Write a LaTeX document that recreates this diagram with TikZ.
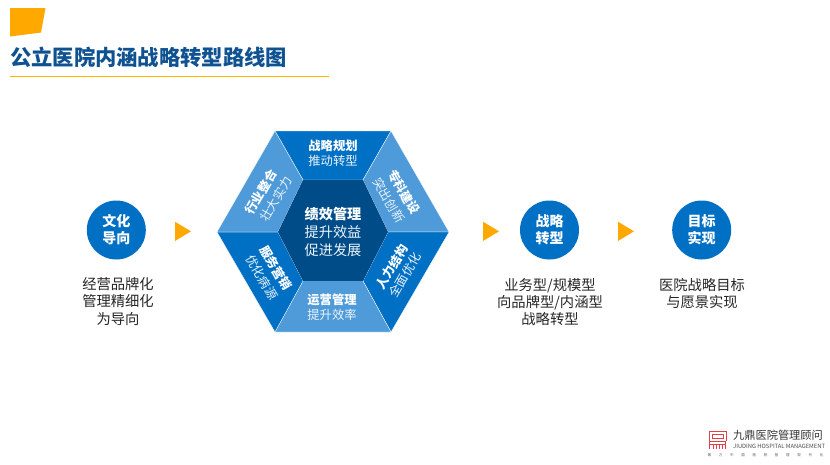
\documentclass[tikz,border=0pt]{standalone}
\usepackage{fontspec}
\setmainfont{Noto Sans CJK SC}
\usetikzlibrary{shapes.geometric}
\definecolor{hexdark}{HTML}{004C88}
\definecolor{hexblue}{HTML}{0070C5}
\definecolor{hexlight}{HTML}{4F9BD9}
\definecolor{accent}{HTML}{FFA800}
\definecolor{titleblue}{HTML}{0F5291}
\definecolor{bodytext}{HTML}{262626}
\definecolor{logored}{HTML}{E0404A}
\tikzset{
  x=1pt,y=-1pt,
  seg/.style={draw=white,line width=0.3pt},
  head/.style={font=\fontsize{12.3}{14}\selectfont\bfseries,text=white,inner sep=0pt},
  sub/.style={font=\fontsize{12.3}{14}\selectfont,text=white!92!hexblue,inner sep=0pt},
  corehead/.style={font=\fontsize{14.2}{16}\selectfont\bfseries,text=white,inner sep=0pt},
  coresub/.style={font=\fontsize{14.2}{16}\selectfont,text=white!92!hexblue,inner sep=0pt},
  stage/.style={circle,fill=hexblue,minimum size=59pt,inner sep=0pt,text=white,align=center,font=\fontsize{14}{17}\selectfont\bfseries},
  desc/.style={align=center,text=bodytext,inner sep=0pt,font=\fontsize{14.3}{17.2}\selectfont},
  tri/.style={fill=accent,draw=none},
}
\begin{document}
\begin{tikzpicture}
\useasboundingbox (0,0) rectangle (830,464);
\fill[white] (0,0) rectangle (830,464);
% header
\fill[accent] (10,8) -- (45.5,8) -- (41,32.5) -- (10,36.5) -- cycle;
\node[anchor=west,inner sep=0pt,text=titleblue,font=\fontsize{21.3}{24}\selectfont\bfseries] (title) at (10,57) {公立医院内涵战略转型路线图};
\draw[accent!85!yellow,line width=1.1pt] (10,76.5) -- (329,76.5);
% hexagon
\fill[hexblue,seg] (275,131) -- (391,131) -- (363,180) -- (303,180) -- cycle;
\fill[hexlight,seg] (391,131) -- (449,232) -- (388,232) -- (363,180) -- cycle;
\fill[hexblue,seg] (449,232) -- (391,332) -- (363,281) -- (388,232) -- cycle;
\fill[hexlight,seg] (391,332) -- (275,332) -- (303,281) -- (363,281) -- cycle;
\fill[hexblue,seg] (275,332) -- (217,232) -- (278,232) -- (303,281) -- cycle;
\fill[hexlight,seg] (217,232) -- (275,131) -- (303,180) -- (278,232) -- cycle;
\fill[hexdark] (278,232) -- (303,180) -- (363,180) -- (388,232) -- (363,281) -- (303,281) -- cycle;
% segment text
\node[head] (t1) at (333,146) {战略规划};
\node[sub]  (t2) at (333,161) {推动转型};
\node[head] (r1) at (332,300) {运营管理};
\node[sub]  (r2) at (332,315) {提升效率};
\node[head,rotate=60] (a1) at (261,192) {行业整合};
\node[sub,rotate=60]  (a2) at (276,199) {壮大实力};
\node[head,rotate=-60] (b1) at (404,192) {专科建设};
\node[sub,rotate=-60]  (b2) at (389,200) {突出创新};
\node[head,rotate=60] (c1) at (392,267) {人力结构};
\node[sub,rotate=60]  (c2) at (405,275) {全面优化};
\node[head,rotate=-60] (d1) at (276,268) {服务营销};
\node[sub,rotate=-60]  (d2) at (262,277) {优化病源};
\node[corehead] (m1) at (333,214) {绩效管理};
\node[coresub]  (m2) at (333,232) {提升效益};
\node[coresub]  (m3) at (333,250) {促进发展};
% stages
\node[stage] (s1) at (116.3,230) {文化\\导向};
\node[stage] (s2) at (549.5,230) {战略\\转型};
\node[stage] (s3) at (701.7,230) {目标\\实现};
\node[desc,anchor=north] (d1x) at (118,277.5) {经营品牌化\\管理精细化\\为导向};
\node[desc,anchor=north] (d2x) at (550,277.8) {业务型/规模型\\向品牌型/内涵型\\战略转型};
\node[desc,anchor=north] (d3x) at (702,277.8) {医院战略目标\\与愿景实现};
% triangles
\fill[tri] (175,221.7) -- (191,231.3) -- (175,241) -- cycle;
\fill[tri] (483,221.7) -- (499,231.3) -- (483,241) -- cycle;
\fill[tri] (618,221.7) -- (634,231.3) -- (618,241) -- cycle;
% logo
\draw[logored,line width=0.9pt] (709,431) -- (726,431)
  (709,431) -- (709,441) (726,431) -- (726,441)
  (712,434) -- (723,434) (712,434) -- (712,438.5) -- (723,438.5) (723,434) -- (723,438.5)
  (709,441) -- (726,441)
  (709,444) -- (726,444)
  (709.5,441) -- (709.5,449) (713,444) -- (713,449)
  (716,444) -- (716,449) (719.5,444) -- (719.5,449)
  (722.5,444) -- (722.5,449) (725.5,441) -- (725.5,449);
\node[anchor=west,inner sep=0pt,text=black!80,font=\fontsize{11.2}{12}\selectfont] (l1) at (733,435.5) {九鼎医院管理顾问};
\node[anchor=west,inner sep=0pt,text=black!70,font=\fontsize{5.8}{6}\selectfont] (l2) at (733,446) {JIUDING HOSPITAL MANAGEMENT};
\foreach \ch [count=\i from 0] in {致,力,中,国,医,院,管,理,现,代,化}
  \node[inner sep=0pt,text=black!65,font=\fontsize{3.5}{4}\selectfont] (k\i) at (709.5+11.2*\i,455.5) {\ch};
\end{tikzpicture}
\end{document}
